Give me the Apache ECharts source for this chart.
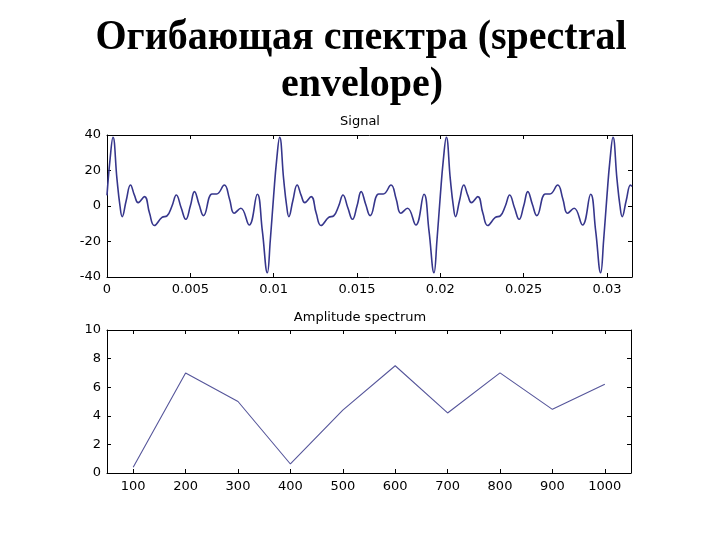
<!DOCTYPE html>
<html>
<head>
<meta charset="utf-8">
<script src="https://cdn.jsdelivr.net/npm/echarts@6/dist/echarts.min.js"></script>
<style>html,body{margin:0;padding:0;background:#fff}#c{width:720px;height:540px}</style>
</head>
<body>
<div id="c"></div>
<script>
// Signal (time in seconds, amplitude)
const signalTimes = [
  0, 0.00018, 0.00036, 0.0006, 0.00078, 0.00091, 0.00115, 0.00141, 0.00165, 0.00187,
  0.00225, 0.00255, 0.00284, 0.0033, 0.0036, 0.0039, 0.00416, 0.00445, 0.00473, 0.005,
  0.00525, 0.00552, 0.00579, 0.0063, 0.00658, 0.00704, 0.00735, 0.00763, 0.00803, 0.00853,
  0.00902, 0.00932, 0.00962, 0.0098,
  0.01, 0.01018, 0.01036, 0.0106, 0.01078, 0.01091, 0.01115, 0.01141, 0.01165, 0.01187,
  0.01225, 0.01255, 0.01284, 0.0133, 0.0136, 0.0139, 0.01416, 0.01445, 0.01473, 0.015,
  0.01525, 0.01552, 0.01579, 0.0163, 0.01658, 0.01704, 0.01735, 0.01763, 0.01803, 0.01853,
  0.01902, 0.01932, 0.01962, 0.0198,
  0.02, 0.02018, 0.02036, 0.0206, 0.02078, 0.02091, 0.02115, 0.02141, 0.02165, 0.02187,
  0.02225, 0.02255, 0.02284, 0.0233, 0.0236, 0.0239, 0.02416, 0.02445, 0.02473, 0.025,
  0.02525, 0.02552, 0.02579, 0.0263, 0.02658, 0.02704, 0.02735, 0.02763, 0.02803, 0.02853,
  0.02902, 0.02932, 0.02962, 0.0298,
  0.03, 0.03018, 0.03036, 0.0306, 0.03078, 0.03091, 0.03115, 0.03141, 0.0315
];
const signalValues = [
  6, 26, 38.7, 15, 0, -6, 3, 11.8, 6, 1.9,
  5.3, -4, -11, -6.4, -5.6, 0, 6.2, -1, -7.5, 0,
  8.1, 1, -5.4, 6.8, 6.8, 11.8, 4, -4.1, -1.3, -10.7,
  6.6, -14, -37.6, -19,
  6, 26, 38.7, 15, 0, -6, 3, 11.8, 6, 1.9,
  5.3, -4, -11, -6.4, -5.6, 0, 6.2, -1, -7.5, 0,
  8.1, 1, -5.4, 6.8, 6.8, 11.8, 4, -4.1, -1.3, -10.7,
  6.6, -14, -37.6, -19,
  6, 26, 38.7, 15, 0, -6, 3, 11.8, 6, 1.9,
  5.3, -4, -11, -6.4, -5.6, 0, 6.2, -1, -7.5, 0,
  8.1, 1, -5.4, 6.8, 6.8, 11.8, 4, -4.1, -1.3, -10.7,
  6.6, -14, -37.6, -19,
  6, 26, 38.7, 15, 0, -6, 3, 11.8, 11
];
// Amplitude spectrum
const freqs = [100, 200, 300, 400, 500, 600, 700, 800, 900, 1000];
const amplitudes = [0.4, 7.0, 5.0, 0.63, 4.4, 7.5, 4.2, 7.0, 4.45, 6.2];
// Tick labels
const signalXTicks = ['0', '0.005', '0.01', '0.015', '0.02', '0.025', '0.03'];
const spectrumXTicks = ['100','200','300','400','500','600','700','800','900','1000'];

const signalData = signalTimes.map((t, i) => [t, signalValues[i]]);
const spectrumData = freqs.map((f, i) => [f, amplitudes[i]]);

const lab = {fontFamily: 'DejaVu Sans', fontSize: 13, color: '#000'};
const line = {show: true, onZero: false, lineStyle: {color: '#000', width: 1}};
const tick = {show: true, inside: true, length: 4, lineStyle: {color: '#000', width: 1}};

function fmtSignal(v) {
  const k = Math.round(v / 0.005);
  if (Math.abs(v - k * 0.005) > 1e-9) return '';
  return signalXTicks[k] !== undefined ? signalXTicks[k] : '';
}
function fmtSpec(v) {
  const idx = freqs.indexOf(Math.round(v));
  if (Math.abs(v - Math.round(v)) > 1e-6 || idx < 0) return '';
  return spectrumXTicks[idx];
}

const titleFont = {fontFamily: 'Liberation Serif', fontWeight: 'bold', fontSize: 40, fill: '#000'};

const chart = echarts.init(document.getElementById('c'), null, {renderer: 'canvas'});
chart.setOption({
  animation: false,
  backgroundColor: '#fff',
  graphic: [
    {type: 'text', x: 361, y: 59, scaleY: 1.08,
     style: Object.assign({text: 'Огибающая спектра (spectral', textAlign: 'center', textVerticalAlign: 'bottom'}, titleFont)},
    {type: 'text', x: 362, y: 106, scaleY: 1.08,
     style: Object.assign({text: 'envelope)', textAlign: 'center', textVerticalAlign: 'bottom'}, titleFont)}
  ],
  title: [
    {text: 'Signal', left: 'center', top: 110,
     textStyle: {fontFamily: 'DejaVu Sans', fontWeight: 'normal', fontSize: 13, color: '#000'}},
    {text: 'Amplitude spectrum', left: 'center', top: 306,
     textStyle: {fontFamily: 'DejaVu Sans', fontWeight: 'normal', fontSize: 13, color: '#000'}}
  ],
  grid: [
    {left: 107, top: 135, width: 525, height: 142},
    {left: 107, top: 330, width: 524, height: 143}
  ],
  xAxis: [
    {gridIndex: 0, type: 'value', position: 'bottom', min: 0, max: 0.0315, interval: 0.005,
     axisLine: line, axisTick: tick, splitLine: {show: false},
     axisLabel: Object.assign({margin: 6, formatter: fmtSignal}, lab)},
    {gridIndex: 0, type: 'value', position: 'top', min: 0, max: 0.0315, interval: 0.005,
     axisLine: line, axisTick: tick, splitLine: {show: false}, axisLabel: {show: false}},
    {gridIndex: 1, type: 'value', position: 'bottom', min: 50, max: 1050, splitNumber: 10,
     axisLine: line, axisTick: tick, splitLine: {show: false},
     axisLabel: Object.assign({margin: 7, formatter: fmtSpec}, lab)},
    {gridIndex: 1, type: 'value', position: 'top', min: 50, max: 1050, splitNumber: 10,
     axisLine: line, axisTick: tick, splitLine: {show: false}, axisLabel: {show: false}}
  ],
  yAxis: [
    {gridIndex: 0, type: 'value', position: 'left', min: -40, max: 40, interval: 20,
     axisLine: line, axisTick: tick, splitLine: {show: false},
     axisLabel: Object.assign({margin: 6}, lab)},
    {gridIndex: 0, type: 'value', position: 'right', min: -40, max: 40, interval: 20,
     axisLine: line, axisTick: tick, splitLine: {show: false}, axisLabel: {show: false}},
    {gridIndex: 1, type: 'value', position: 'left', min: 0, max: 10, interval: 2,
     axisLine: line, axisTick: tick, splitLine: {show: false},
     axisLabel: Object.assign({margin: 6}, lab)},
    {gridIndex: 1, type: 'value', position: 'right', min: 0, max: 10, interval: 2,
     axisLine: line, axisTick: tick, splitLine: {show: false}, axisLabel: {show: false}}
  ],
  series: [
    {type: 'line', xAxisIndex: 0, yAxisIndex: 0, data: signalData, smooth: 0.45,
     showSymbol: false, lineStyle: {color: '#36368c', width: 1.6}},
    {type: 'line', xAxisIndex: 2, yAxisIndex: 2, data: spectrumData, smooth: false,
     showSymbol: false, lineStyle: {color: '#55559a', width: 1.1}}
  ]
});
</script>
</body>
</html>
